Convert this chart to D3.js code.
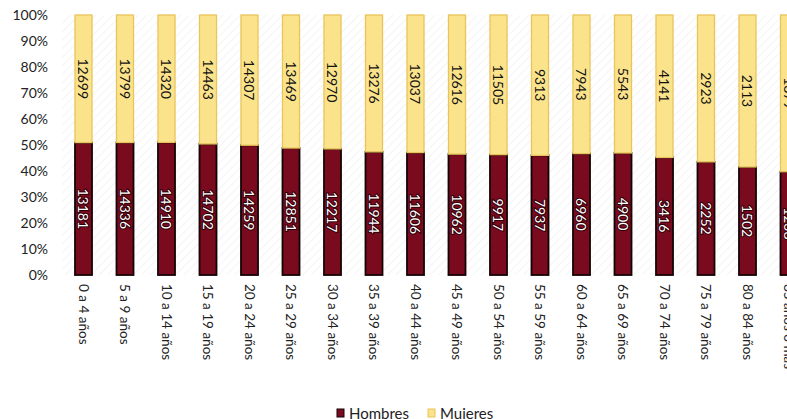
<!DOCTYPE html>
<html lang="es">
<head>
<meta charset="UTF-8">
<title>Hombres y Mujeres por grupo de edad</title>
<script src="https://d3js.org/d3.v7.min.js"></script>
<style>
  body { margin: 0; background: #fff; overflow: hidden; }
  svg { display: block; font-family: 'Lato', 'Noto Sans', sans-serif; }
  .tick text { fill: #222; }
</style>
</head>
<body>
<svg width="787" height="419"></svg>
<script>
// grupos de edad
const categorias = ["0 a 4 años", "5 a 9 años", "10 a 14 años", "15 a 19 años", "20 a 24 años",
  "25 a 29 años", "30 a 34 años", "35 a 39 años", "40 a 44 años", "45 a 49 años", "50 a 54 años",
  "55 a 59 años", "60 a 64 años", "65 a 69 años", "70 a 74 años", "75 a 79 años", "80 a 84 años",
  "85 años o más"];
const hombres = [13181, 14336, 14910, 14702, 14259, 12851, 12217, 11944, 11606, 10962, 9917,
  7937, 6960, 4900, 3416, 2252, 1502, 1238];
const mujeres = [12699, 13799, 14320, 14463, 14307, 13469, 12970, 13276, 13037, 12616, 11505,
  9313, 7943, 5543, 4141, 2923, 2113, 1879];
const yTicks = [0, 0.1, 0.2, 0.3, 0.4, 0.5, 0.6, 0.7, 0.8, 0.9, 1];

const svg = d3.select("svg");

// tabla para el stack
const tabla = categorias.map((c, i) => {
  const t = hombres[i] + mujeres[i];
  return { cat: c, Hombres: hombres[i] / t, Mujeres: mujeres[i] / t, hN: hombres[i], mN: mujeres[i] };
});
const series = d3.stack().keys(["Hombres", "Mujeres"])(tabla);

// el grafico original esta recortado a la derecha
const x = d3.scaleBand().domain(categorias).range([62.75, 809.75])
  .paddingInner(0.59).paddingOuter(0.295);
const y = d3.scaleLinear().domain([0, 1]).range([275, 15]);

const colores = { Hombres: "#7a0a1e", Mujeres: "#fbe38c" };
const bordes = { Hombres: "#140305", Mujeres: "#e9c45a" };

// fondo rayado muy suave
const defs = svg.append("defs");
const pat = defs.append("pattern").attr("id", "rayas")
  .attr("width", 6).attr("height", 6)
  .attr("patternUnits", "userSpaceOnUse")
  .attr("patternTransform", "rotate(45)");
pat.append("line").attr("x1", 0).attr("y1", 0).attr("x2", 0).attr("y2", 6)
  .attr("stroke", "#f1f1f1").attr("stroke-width", 1.5);
svg.append("rect").attr("x", 62).attr("y", y(1)).attr("width", 725)
  .attr("height", y(0) - y(1)).attr("fill", "url(#rayas)");

// eje y
const yAxis = svg.append("g").attr("transform", "translate(48,0)")
  .call(d3.axisLeft(y).tickValues(yTicks).tickFormat(d3.format(".0%")).tickSize(0).tickPadding(0));
yAxis.select(".domain").remove();
yAxis.selectAll("text").attr("font-size", 14).attr("font-family", "Lato, sans-serif");

// barras
const grupos = svg.append("g").selectAll("g").data(series).join("g");
grupos.selectAll("rect")
  .data(s => s.map(d => Object.assign(d, { key: s.key })))
  .join("rect")
  .attr("x", d => x(d.data.cat))
  .attr("y", d => y(d[1]))
  .attr("width", x.bandwidth())
  .attr("height", d => y(d[0]) - y(d[1]))
  .attr("fill", d => colores[d.key])
  .attr("stroke", d => bordes[d.key])
  .attr("stroke-width", d => d.key === "Hombres" ? 1.8 : 1.3);

// etiquetas de valores (rotadas)
grupos.selectAll("text")
  .data(s => s)
  .join("text")
  .attr("transform", d => {
    const cx = x(d.data.cat) + x.bandwidth() / 2;
    const cy = (y(d[0]) + y(d[1])) / 2;
    return `translate(${cx},${cy}) rotate(90)`;
  })
  .attr("text-anchor", "middle")
  .attr("dominant-baseline", "central")
  .attr("font-size", 14)
  .attr("font-family", "Lato, sans-serif")
  .attr("fill", d => d.key === "Hombres" ? "#fff" : "#111")
  .attr("stroke", d => d.key === "Hombres" ? "#2a0008" : "none")
  .attr("stroke-width", 2)
  .attr("paint-order", "stroke")
  .text(d => d.key === "Hombres" ? d.data.hN : d.data.mN);

// eje x
const xAxis = svg.append("g").attr("transform", `translate(0,${y(0)})`)
  .call(d3.axisBottom(x).tickSize(0).tickPadding(0));
xAxis.select(".domain").remove();
xAxis.selectAll("text")
  .attr("font-size", 13.5)
  .attr("font-family", "Lato, sans-serif")
  .attr("text-anchor", "start")
  .attr("dy", null)
  .attr("dominant-baseline", "central")
  .attr("transform", "translate(0,9) rotate(90)");

// leyenda
const leyenda = svg.append("g").attr("transform", "translate(337,413)");
[["Hombres", 0], ["Mujeres", 91]].forEach(([k, dx]) => {
  const g = leyenda.append("g").attr("transform", `translate(${dx},0)`);
  g.append("rect").attr("x", 0).attr("y", -4).attr("width", 7).attr("height", 8)
    .attr("fill", colores[k]).attr("stroke", bordes[k]).attr("stroke-width", 1);
  g.append("text").attr("x", 12).attr("dominant-baseline", "central")
    .attr("font-size", 15).attr("font-family", "Lato, sans-serif").attr("fill", "#222")
    .text(k);
});
</script>
</body>
</html>
